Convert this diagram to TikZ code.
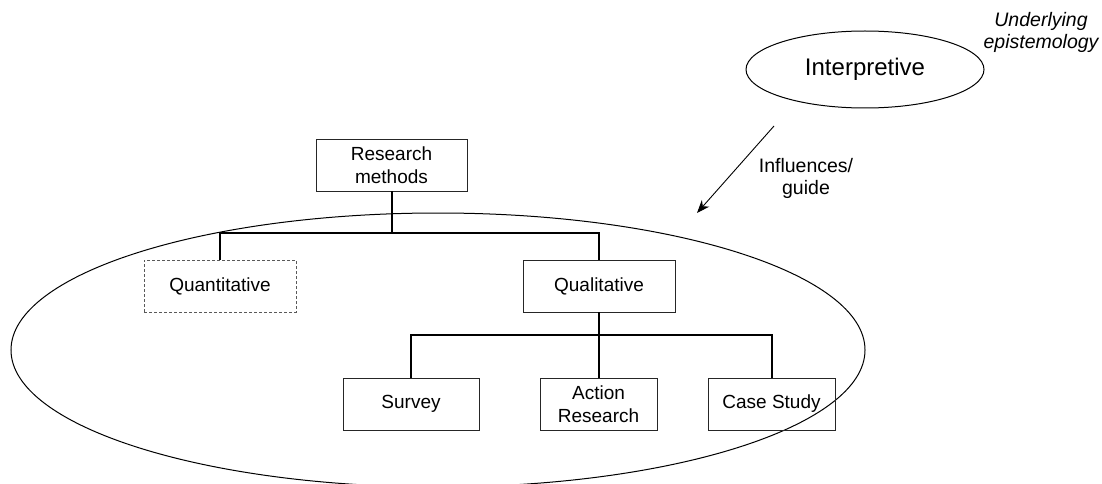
\documentclass[tikz,border=0pt]{standalone}
\usepackage{fontspec}
\setmainfont{Liberation Sans}
\usetikzlibrary{arrows.meta,shapes.geometric}
\begin{document}
\begin{tikzpicture}[x=1pt,y=-1pt,
  box/.style={draw=black!85, line width=0.9pt, minimum height=52pt, align=center,
    inner sep=0pt, font=\fontsize{19}{23}\selectfont},
  dashbox/.style={box, draw=black!65, dashed, dash pattern=on 3pt off 2pt},
  link/.style={line width=2pt, black},
  lbl/.style={align=center, font=\fontsize{19.5}{22}\selectfont}]
\useasboundingbox (0,0) rectangle (1102,484);
\clip (0,0) rectangle (1102,484);
\fill[white] (0,0) rectangle (1102,484);

% scope of the research design
\draw[line width=1pt] (438,350) ellipse [x radius=427, y radius=137];

% underlying epistemology
\node[draw, line width=1pt, ellipse, inner sep=0pt, minimum width=238pt, minimum height=77pt,
  font=\fontsize{24}{28}\selectfont] (interp) at (865,69.5) {Interpretive};
\node[lbl, font=\fontsize{19.5}{22}\itshape] (epi) at (1041,32) {Underlying\\epistemology};

% influence arrow
\coordinate (infA) at (774,126);
\coordinate (infB) at (697,213);
\draw[line width=0.9pt, -{Stealth[length=13pt, width=10pt]}] (infA) -- (infB);
\node[lbl] (inf) at (806,178) {Influences/\\guide};

% method hierarchy
\node[box, minimum width=151pt] (rm) at (391.5,165) {Research\\methods};
\node[dashbox, minimum width=152pt] (quant) at (220,286) {Quantitative};
\node[box, minimum width=152pt] (qual) at (599,286) {Qualitative};
\node[box, minimum width=136pt] (survey) at (411,404) {Survey};
\node[box, minimum width=117pt] (action) at (598.5,404) {Action\\Research};
\node[box, minimum width=127pt] (case) at (771.5,404) {Case Study};

\coordinate (j1) at (391.5,233);
\coordinate (j2) at (599,335);
\draw[link] (rm.south) -- (j1);
\draw[link] (j1) -| (quant.north);
\draw[link] (j1) -| (qual.north);
\draw[link] (qual.south) -- (j2);
\draw[link] (j2) -| (survey.north);
\draw[link] (j2) -| (action.north);
\draw[link] (j2) -| (case.north);
\end{tikzpicture}
\end{document}
